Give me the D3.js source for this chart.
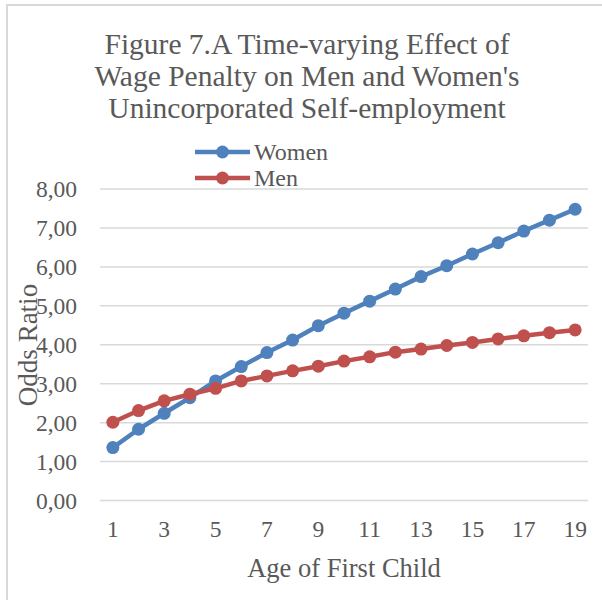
<!DOCTYPE html>
<html>
<head>
<meta charset="utf-8">
<script src="https://cdn.jsdelivr.net/npm/d3@7"></script>
<style>
  html, body { margin: 0; padding: 0; background: #fff; }
  svg { display: block; }
  text { font-family: "Liberation Serif", "DejaVu Serif", serif; fill: #595959; }
</style>
</head>
<body>
<svg id="chart" width="602" height="600"></svg>
<script>
// Age of first child (category axis)
const ages = d3.range(1, 20);
// Odds ratios by series
const women = [1.36, 1.83, 2.24, 2.64, 3.07, 3.44, 3.80, 4.12, 4.49, 4.81,
               5.12, 5.43, 5.75, 6.03, 6.33, 6.62, 6.92, 7.20, 7.48];
const men   = [2.01, 2.31, 2.56, 2.73, 2.88, 3.07, 3.20, 3.33, 3.45, 3.58,
               3.69, 3.81, 3.89, 3.98, 4.06, 4.15, 4.23, 4.31, 4.38];
const yTicks = [0, 1, 2, 3, 4, 5, 6, 7, 8];
const xTickLabels = [1, 3, 5, 7, 9, 11, 13, 15, 17, 19];
const titleLines = ["Figure 7.A Time-varying Effect of",
                    "Wage Penalty on Men and Women's",
                    "Unincorporated Self-employment"];

const series = [
  { name: "Women", values: women, color: "#4F81BD" },
  { name: "Men",   values: men,   color: "#C0504D" }
];

const svg = d3.select("#chart");
const plot = { left: 100, right: 588, top: 189, bottom: 500.5 };

const x = d3.scaleBand().domain(ages).range([plot.left, plot.right]);
const y = d3.scaleLinear().domain([0, 8]).range([plot.bottom, plot.top]);
const fmt = v => d3.format(".2f")(v).replace(".", ",");

// Chart area outline (left and top edges visible)
svg.append("path")
  .attr("d", `M7,600 V5 H602`)
  .attr("fill", "none")
  .attr("stroke", "#d9d9d9")
  .attr("stroke-width", 2);

// Title
svg.append("g").selectAll("text")
  .data(titleLines)
  .join("text")
  .attr("x", 307)
  .attr("y", (d, i) => 54 + i * 32)
  .attr("text-anchor", "middle")
  .attr("font-size", 29.5)
  .text(d => d);

// Horizontal gridlines
svg.append("g").selectAll("line")
  .data(yTicks)
  .join("line")
  .attr("x1", plot.left).attr("x2", plot.right)
  .attr("y1", d => y(d)).attr("y2", d => y(d))
  .attr("stroke", "#d9d9d9")
  .attr("stroke-width", 1.5);

// Y axis labels
const yAxis = d3.axisLeft(y).tickValues(yTicks).tickFormat(fmt).tickSize(0).tickPadding(0);
svg.append("g")
  .attr("transform", `translate(77,0)`)
  .call(yAxis)
  .call(g => g.select(".domain").remove())
  .call(g => g.selectAll("text")
    .attr("font-size", 23.5)
    .attr("fill", "#595959")
    .attr("font-family", "Liberation Serif, serif"));

// X axis labels (every other category)
const xAxis = d3.axisBottom(x).tickValues(xTickLabels).tickSize(0).tickPadding(0);
svg.append("g")
  .attr("transform", `translate(0,520)`)
  .call(xAxis)
  .call(g => g.select(".domain").remove())
  .call(g => g.selectAll("text")
    .attr("font-size", 23.5)
    .attr("fill", "#595959")
    .attr("font-family", "Liberation Serif, serif"));

// Axis titles
svg.append("text")
  .attr("x", (plot.left + plot.right) / 2)
  .attr("y", 577)
  .attr("text-anchor", "middle")
  .attr("font-size", 26.5)
  .text("Age of First Child");

svg.append("text")
  .attr("transform", `translate(37,345) rotate(-90)`)
  .attr("text-anchor", "middle")
  .attr("font-size", 27)
  .text("Odds Ratio");

// Series lines and markers
const line = d3.line()
  .x((d, i) => x(ages[i]) + x.bandwidth() / 2)
  .y(d => y(d));

const sg = svg.append("g").selectAll("g")
  .data(series)
  .join("g");

sg.append("path")
  .attr("d", d => line(d.values))
  .attr("fill", "none")
  .attr("stroke", d => d.color)
  .attr("stroke-width", 4.5)
  .attr("stroke-linejoin", "round");

sg.each(function (s) {
  d3.select(this).selectAll("circle")
    .data(s.values)
    .join("circle")
    .attr("cx", (d, i) => x(ages[i]) + x.bandwidth() / 2)
    .attr("cy", d => y(d))
    .attr("r", 6.5)
    .attr("fill", s.color);
});

// Legend
const legend = svg.append("g").selectAll("g")
  .data(series)
  .join("g")
  .attr("transform", (d, i) => `translate(195,${152 + i * 26})`);

legend.append("line")
  .attr("x1", 0).attr("x2", 55)
  .attr("stroke", d => d.color)
  .attr("stroke-width", 4.5);

legend.append("circle")
  .attr("cx", 27.5).attr("r", 6.5)
  .attr("fill", d => d.color);

legend.append("text")
  .attr("x", 59)
  .attr("dy", "0.33em")
  .attr("font-size", 24)
  .text(d => d.name);
</script>
</body>
</html>
